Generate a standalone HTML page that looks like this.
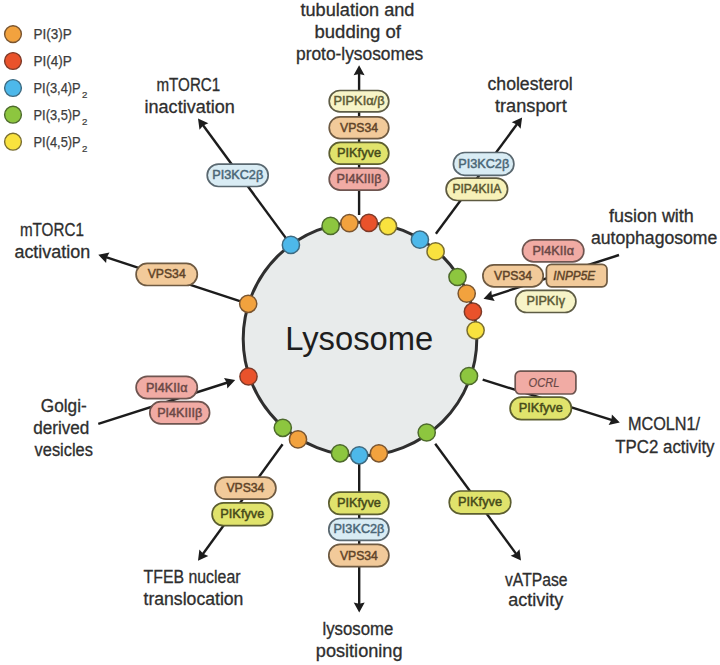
<!DOCTYPE html>
<html><head><meta charset="utf-8"><style>
html,body{margin:0;padding:0;background:#fff;}
svg{display:block;font-family:"Liberation Sans",sans-serif;}
</style></head><body>
<svg width="720" height="665" viewBox="0 0 720 665">
<rect width="720" height="665" fill="#fff"/>
<circle cx="360" cy="339" r="116.8" fill="#e8ebeb" stroke="#2f2f2f" stroke-width="3"/>
<line x1="359.1" y1="215.0" x2="359.1" y2="73.2" stroke="#1c1c1c" stroke-width="2.4"/>
<polygon points="359.1,65.2 364.6,75.2 359.1,74.0 353.6,75.2" fill="#1c1c1c"/>
<line x1="290.9" y1="244.9" x2="202.7" y2="124.8" stroke="#1c1c1c" stroke-width="2.4"/>
<polygon points="198.0,118.4 208.4,123.2 203.2,125.5 199.5,129.7" fill="#1c1c1c"/>
<line x1="435.9" y1="233.8" x2="517.3" y2="123.8" stroke="#1c1c1c" stroke-width="2.4"/>
<polygon points="522.1,117.4 520.6,128.7 516.9,124.5 511.7,122.2" fill="#1c1c1c"/>
<line x1="619.0" y1="255.0" x2="491.1" y2="296.3" stroke="#1c1c1c" stroke-width="2.4"/>
<polygon points="483.5,298.8 491.3,290.4 491.9,296.0 494.7,300.9" fill="#1c1c1c"/>
<line x1="248.2" y1="303.8" x2="105.9" y2="257.2" stroke="#1c1c1c" stroke-width="2.4"/>
<polygon points="98.3,254.7 109.5,252.6 106.7,257.4 106.1,263.0" fill="#1c1c1c"/>
<line x1="98.3" y1="423.8" x2="227.6" y2="382.5" stroke="#1c1c1c" stroke-width="2.4"/>
<polygon points="235.2,380.1 227.3,388.4 226.8,382.8 224.0,377.9" fill="#1c1c1c"/>
<line x1="482.7" y1="379.6" x2="612.2" y2="420.2" stroke="#1c1c1c" stroke-width="2.4"/>
<polygon points="619.8,422.6 608.6,424.9 611.4,420.0 611.9,414.4" fill="#1c1c1c"/>
<line x1="435.2" y1="443.7" x2="516.3" y2="554.1" stroke="#1c1c1c" stroke-width="2.4"/>
<polygon points="521.0,560.5 510.6,555.7 515.8,553.4 519.5,549.2" fill="#1c1c1c"/>
<line x1="282.6" y1="444.3" x2="202.7" y2="554.3" stroke="#1c1c1c" stroke-width="2.4"/>
<polygon points="198.0,560.8 199.4,549.5 203.2,553.7 208.3,555.9" fill="#1c1c1c"/>
<line x1="359.2" y1="462.0" x2="359.2" y2="604.5" stroke="#1c1c1c" stroke-width="2.4"/>
<polygon points="359.2,612.5 353.7,602.5 359.2,603.7 364.7,602.5" fill="#1c1c1c"/>
<circle cx="330.6" cy="225.9" r="8.6" fill="#8dc63f" stroke="#4d6a2c" stroke-width="1.5"/>
<circle cx="349.4" cy="223.1" r="8.6" fill="#f2a23e" stroke="#7a5530" stroke-width="1.5"/>
<circle cx="368.9" cy="222.9" r="8.6" fill="#e9522b" stroke="#7e3a28" stroke-width="1.5"/>
<circle cx="388" cy="226.2" r="8.6" fill="#f9e23e" stroke="#7a6e30" stroke-width="1.5"/>
<circle cx="419.9" cy="239.7" r="8.6" fill="#4db8ea" stroke="#3e6a80" stroke-width="1.5"/>
<circle cx="435.6" cy="251.4" r="8.6" fill="#f9e23e" stroke="#7a6e30" stroke-width="1.5"/>
<circle cx="457.5" cy="277" r="8.6" fill="#8dc63f" stroke="#4d6a2c" stroke-width="1.5"/>
<circle cx="466.7" cy="293.6" r="8.6" fill="#f2a23e" stroke="#7a5530" stroke-width="1.5"/>
<circle cx="472.9" cy="311.7" r="8.6" fill="#e9522b" stroke="#7e3a28" stroke-width="1.5"/>
<circle cx="475.6" cy="330.3" r="8.6" fill="#f9e23e" stroke="#7a6e30" stroke-width="1.5"/>
<circle cx="469" cy="376" r="8.6" fill="#8dc63f" stroke="#4d6a2c" stroke-width="1.5"/>
<circle cx="426.7" cy="432.5" r="8.6" fill="#8dc63f" stroke="#4d6a2c" stroke-width="1.5"/>
<circle cx="378.9" cy="453.3" r="8.6" fill="#f2a23e" stroke="#7a5530" stroke-width="1.5"/>
<circle cx="340" cy="453.3" r="8.6" fill="#8dc63f" stroke="#4d6a2c" stroke-width="1.5"/>
<circle cx="359.2" cy="455.3" r="8.6" fill="#4db8ea" stroke="#3e6a80" stroke-width="1.5"/>
<circle cx="298" cy="439.4" r="8.6" fill="#f2a23e" stroke="#7a5530" stroke-width="1.5"/>
<circle cx="282.8" cy="427.8" r="8.6" fill="#8dc63f" stroke="#4d6a2c" stroke-width="1.5"/>
<circle cx="248.5" cy="376.5" r="8.6" fill="#e9522b" stroke="#7e3a28" stroke-width="1.5"/>
<circle cx="248.2" cy="303.8" r="8.6" fill="#f2a23e" stroke="#7a5530" stroke-width="1.5"/>
<circle cx="290.9" cy="244.9" r="8.6" fill="#4db8ea" stroke="#3e6a80" stroke-width="1.5"/>
<rect x="329.2" y="90.5" width="59.6" height="21.4" rx="10.7" fill="#f7f4c8" stroke="#5e5c45" stroke-width="1.7"/>
<text x="359.0" y="105.2" font-size="13.6" fill="#5c5a36" text-anchor="middle" stroke="#5c5a36" stroke-width="0.5" textLength="51" lengthAdjust="spacingAndGlyphs">PIPKIα/β</text>
<rect x="329.2" y="116.8" width="59.6" height="21.8" rx="10.9" fill="#f2ca9a" stroke="#6e5a42" stroke-width="1.7"/>
<text x="359.0" y="131.7" font-size="13.6" fill="#604428" text-anchor="middle" stroke="#604428" stroke-width="0.5" textLength="38" lengthAdjust="spacingAndGlyphs">VPS34</text>
<rect x="329.2" y="142.4" width="59.6" height="21.8" rx="10.9" fill="#e0e36c" stroke="#5c5e30" stroke-width="1.7"/>
<text x="359.0" y="157.3" font-size="13.6" fill="#464a1a" text-anchor="middle" stroke="#464a1a" stroke-width="0.5" textLength="44" lengthAdjust="spacingAndGlyphs">PIKfyve</text>
<rect x="329.2" y="168.2" width="59.6" height="21.9" rx="10.9" fill="#f1aba4" stroke="#6e5550" stroke-width="1.7"/>
<text x="359.0" y="183.2" font-size="13.6" fill="#6a4846" text-anchor="middle" stroke="#6a4846" stroke-width="0.5" textLength="45" lengthAdjust="spacingAndGlyphs">PI4KIIIβ</text>
<rect x="207.2" y="164.1" width="61.0" height="22.4" rx="11.2" fill="#d9ecf4" stroke="#5a6870" stroke-width="1.7"/>
<text x="237.7" y="179.3" font-size="13.6" fill="#4a6676" text-anchor="middle" stroke="#4a6676" stroke-width="0.5" textLength="51" lengthAdjust="spacingAndGlyphs">PI3KC2β</text>
<rect x="453.4" y="152.5" width="60.5" height="22.8" rx="11.4" fill="#d9ecf4" stroke="#5a6870" stroke-width="1.7"/>
<text x="483.7" y="167.9" font-size="13.6" fill="#4a6676" text-anchor="middle" stroke="#4a6676" stroke-width="0.5" textLength="51" lengthAdjust="spacingAndGlyphs">PI3KC2β</text>
<rect x="446.1" y="178.2" width="61.5" height="22.3" rx="11.2" fill="#f7f1b8" stroke="#5e5a40" stroke-width="1.7"/>
<text x="476.9" y="193.4" font-size="13.6" fill="#5a5630" text-anchor="middle" stroke="#5a5630" stroke-width="0.5" textLength="49" lengthAdjust="spacingAndGlyphs">PIP4KIIA</text>
<rect x="522.5" y="239.8" width="61.3" height="22.1" rx="11.0" fill="#f1aba4" stroke="#6e5550" stroke-width="1.7"/>
<text x="553.2" y="254.8" font-size="13.6" fill="#6a4846" text-anchor="middle" stroke="#6a4846" stroke-width="0.5" textLength="41.5" lengthAdjust="spacingAndGlyphs">PI4KIIα</text>
<rect x="482.9" y="264.8" width="60.3" height="22.1" rx="11.0" fill="#f2ca9a" stroke="#6e5a42" stroke-width="1.7"/>
<text x="513.0" y="279.9" font-size="13.6" fill="#604428" text-anchor="middle" stroke="#604428" stroke-width="0.5" textLength="38" lengthAdjust="spacingAndGlyphs">VPS34</text>
<rect x="546.4" y="264.3" width="60.6" height="22.5" rx="5.0" fill="#f2ca9a" stroke="#6e5a42" stroke-width="1.7"/>
<text x="574.2" y="279.5" font-size="13.6" fill="#604428" text-anchor="middle" stroke="#604428" stroke-width="0.5" font-style="italic" textLength="42" lengthAdjust="spacingAndGlyphs">INPP5E</text>
<rect x="515.6" y="290.4" width="60.3" height="22.1" rx="11.0" fill="#f7f4c8" stroke="#5e5c45" stroke-width="1.7"/>
<text x="545.8" y="305.4" font-size="13.6" fill="#5c5a36" text-anchor="middle" stroke="#5c5a36" stroke-width="0.5" textLength="38.5" lengthAdjust="spacingAndGlyphs">PIPKIγ</text>
<rect x="136.1" y="263.4" width="61.2" height="22.1" rx="11.0" fill="#f2ca9a" stroke="#6e5a42" stroke-width="1.7"/>
<text x="166.7" y="278.4" font-size="13.6" fill="#604428" text-anchor="middle" stroke="#604428" stroke-width="0.5" textLength="38" lengthAdjust="spacingAndGlyphs">VPS34</text>
<rect x="136.1" y="376.4" width="61.2" height="22.2" rx="11.1" fill="#f1aba4" stroke="#6e5550" stroke-width="1.7"/>
<text x="166.7" y="391.5" font-size="13.6" fill="#6a4846" text-anchor="middle" stroke="#6a4846" stroke-width="0.5" textLength="41.5" lengthAdjust="spacingAndGlyphs">PI4KIIα</text>
<rect x="149.8" y="401.7" width="59.8" height="22.1" rx="11.0" fill="#f1aba4" stroke="#6e5550" stroke-width="1.7"/>
<text x="179.7" y="416.8" font-size="13.6" fill="#6a4846" text-anchor="middle" stroke="#6a4846" stroke-width="0.5" textLength="45" lengthAdjust="spacingAndGlyphs">PI4KIIIβ</text>
<rect x="515.2" y="371.1" width="60.7" height="22.9" rx="5.0" fill="#f1aba4" stroke="#6e5550" stroke-width="1.7"/>
<text x="544.0" y="386.5" font-size="13.6" fill="#6a4846" text-anchor="middle" stroke="#6a4846" stroke-width="0.2" font-style="italic" textLength="31" lengthAdjust="spacingAndGlyphs">OCRL</text>
<rect x="510.1" y="397.1" width="61.3" height="22.5" rx="11.2" fill="#e0e36c" stroke="#5c5e30" stroke-width="1.7"/>
<text x="540.8" y="412.4" font-size="13.6" fill="#464a1a" text-anchor="middle" stroke="#464a1a" stroke-width="0.5" textLength="44" lengthAdjust="spacingAndGlyphs">PIKfyve</text>
<rect x="215.0" y="477.1" width="60.9" height="22.1" rx="11.0" fill="#f2ca9a" stroke="#6e5a42" stroke-width="1.7"/>
<text x="245.4" y="492.1" font-size="13.6" fill="#604428" text-anchor="middle" stroke="#604428" stroke-width="0.5" textLength="38" lengthAdjust="spacingAndGlyphs">VPS34</text>
<rect x="212.1" y="502.9" width="60.5" height="22.7" rx="11.3" fill="#e0e36c" stroke="#5c5e30" stroke-width="1.7"/>
<text x="242.3" y="518.2" font-size="13.6" fill="#464a1a" text-anchor="middle" stroke="#464a1a" stroke-width="0.5" textLength="44" lengthAdjust="spacingAndGlyphs">PIKfyve</text>
<rect x="328.8" y="492.2" width="60.1" height="22.2" rx="11.1" fill="#e0e36c" stroke="#5c5e30" stroke-width="1.7"/>
<text x="358.9" y="507.3" font-size="13.6" fill="#464a1a" text-anchor="middle" stroke="#464a1a" stroke-width="0.5" textLength="44" lengthAdjust="spacingAndGlyphs">PIKfyve</text>
<rect x="328.8" y="518.5" width="60.1" height="21.8" rx="10.9" fill="#d9ecf4" stroke="#5a6870" stroke-width="1.7"/>
<text x="358.9" y="533.4" font-size="13.6" fill="#4a6676" text-anchor="middle" stroke="#4a6676" stroke-width="0.5" textLength="51" lengthAdjust="spacingAndGlyphs">PI3KC2β</text>
<rect x="328.8" y="544.4" width="60.1" height="22.2" rx="11.1" fill="#f2ca9a" stroke="#6e5a42" stroke-width="1.7"/>
<text x="358.9" y="559.5" font-size="13.6" fill="#604428" text-anchor="middle" stroke="#604428" stroke-width="0.5" textLength="38" lengthAdjust="spacingAndGlyphs">VPS34</text>
<rect x="449.2" y="491.0" width="61.6" height="22.8" rx="11.4" fill="#e0e36c" stroke="#5c5e30" stroke-width="1.7"/>
<text x="480.0" y="506.4" font-size="13.6" fill="#464a1a" text-anchor="middle" stroke="#464a1a" stroke-width="0.5" textLength="44" lengthAdjust="spacingAndGlyphs">PIKfyve</text>
<text x="300.5" y="16.1" font-size="17.5" fill="#2e2e2e" stroke="#2e2e2e" stroke-width="0.3" textLength="113.9" lengthAdjust="spacingAndGlyphs">tubulation and</text>
<text x="314.5" y="37.9" font-size="17.5" fill="#2e2e2e" stroke="#2e2e2e" stroke-width="0.3" textLength="86.5" lengthAdjust="spacingAndGlyphs">budding of</text>
<text x="296" y="60.0" font-size="17.5" fill="#2e2e2e" stroke="#2e2e2e" stroke-width="0.3" textLength="127.3" lengthAdjust="spacingAndGlyphs">proto-lysosomes</text>
<text x="156.5" y="90.7" font-size="17.5" fill="#2e2e2e" stroke="#2e2e2e" stroke-width="0.3" textLength="63.7" lengthAdjust="spacingAndGlyphs">mTORC1</text>
<text x="144.6" y="113.0" font-size="17.5" fill="#2e2e2e" stroke="#2e2e2e" stroke-width="0.3" textLength="90.1" lengthAdjust="spacingAndGlyphs">inactivation</text>
<text x="487.5" y="90.4" font-size="17.5" fill="#2e2e2e" stroke="#2e2e2e" stroke-width="0.3" textLength="85.3" lengthAdjust="spacingAndGlyphs">cholesterol</text>
<text x="495" y="111.9" font-size="17.5" fill="#2e2e2e" stroke="#2e2e2e" stroke-width="0.3" textLength="71.7" lengthAdjust="spacingAndGlyphs">transport</text>
<text x="609" y="221.7" font-size="17.5" fill="#2e2e2e" stroke="#2e2e2e" stroke-width="0.3" textLength="84.8" lengthAdjust="spacingAndGlyphs">fusion with</text>
<text x="591" y="243.7" font-size="17.5" fill="#2e2e2e" stroke="#2e2e2e" stroke-width="0.3" textLength="126.3" lengthAdjust="spacingAndGlyphs">autophagosome</text>
<text x="19.9" y="236.0" font-size="17.5" fill="#2e2e2e" stroke="#2e2e2e" stroke-width="0.3" textLength="64.0" lengthAdjust="spacingAndGlyphs">mTORC1</text>
<text x="14.4" y="258.0" font-size="17.5" fill="#2e2e2e" stroke="#2e2e2e" stroke-width="0.3" textLength="75.9" lengthAdjust="spacingAndGlyphs">activation</text>
<text x="40.8" y="412.2" font-size="17.5" fill="#2e2e2e" stroke="#2e2e2e" stroke-width="0.3" textLength="45.9" lengthAdjust="spacingAndGlyphs">Golgi-</text>
<text x="33.2" y="433.8" font-size="17.5" fill="#2e2e2e" stroke="#2e2e2e" stroke-width="0.3" textLength="56.2" lengthAdjust="spacingAndGlyphs">derived</text>
<text x="34.6" y="456.0" font-size="17.5" fill="#2e2e2e" stroke="#2e2e2e" stroke-width="0.3" textLength="58.3" lengthAdjust="spacingAndGlyphs">vesicles</text>
<text x="627.9" y="430.3" font-size="17.5" fill="#2e2e2e" stroke="#2e2e2e" stroke-width="0.3" textLength="72.2" lengthAdjust="spacingAndGlyphs">MCOLN1/</text>
<text x="615.3" y="452.8" font-size="17.5" fill="#2e2e2e" stroke="#2e2e2e" stroke-width="0.3" textLength="99.2" lengthAdjust="spacingAndGlyphs">TPC2 activity</text>
<text x="505" y="585.6" font-size="17.5" fill="#2e2e2e" stroke="#2e2e2e" stroke-width="0.3" textLength="62.5" lengthAdjust="spacingAndGlyphs">vATPase</text>
<text x="508.3" y="606.4" font-size="17.5" fill="#2e2e2e" stroke="#2e2e2e" stroke-width="0.3" textLength="55.0" lengthAdjust="spacingAndGlyphs">activity</text>
<text x="143.5" y="583.4" font-size="17.5" fill="#2e2e2e" stroke="#2e2e2e" stroke-width="0.3" textLength="97.0" lengthAdjust="spacingAndGlyphs">TFEB nuclear</text>
<text x="143.5" y="605.1" font-size="17.5" fill="#2e2e2e" stroke="#2e2e2e" stroke-width="0.3" textLength="99.9" lengthAdjust="spacingAndGlyphs">translocation</text>
<text x="322.5" y="635.1" font-size="17.5" fill="#2e2e2e" stroke="#2e2e2e" stroke-width="0.3" textLength="70.8" lengthAdjust="spacingAndGlyphs">lysosome</text>
<text x="315.8" y="656.8" font-size="17.5" fill="#2e2e2e" stroke="#2e2e2e" stroke-width="0.3" textLength="86.7" lengthAdjust="spacingAndGlyphs">positioning</text>
<text x="285.2" y="350" font-size="34" fill="#1e1e1e" textLength="148" lengthAdjust="spacingAndGlyphs">Lysosome</text>
<circle cx="13" cy="34.1" r="8.4" fill="#f2a23e" stroke="#7a5530" stroke-width="1.4"/>
<text x="33.5" y="39.1" font-size="14" fill="#3c3c3c" stroke="#3c3c3c" stroke-width="0.25" textLength="38.2" lengthAdjust="spacingAndGlyphs">PI(3)P</text>
<circle cx="13" cy="61" r="8.4" fill="#e9522b" stroke="#7e3a28" stroke-width="1.4"/>
<text x="33.5" y="66.0" font-size="14" fill="#3c3c3c" stroke="#3c3c3c" stroke-width="0.25" textLength="38.2" lengthAdjust="spacingAndGlyphs">PI(4)P</text>
<circle cx="13" cy="88" r="8.4" fill="#4db8ea" stroke="#3e6a80" stroke-width="1.4"/>
<text x="33.5" y="93.0" font-size="14" fill="#3c3c3c" stroke="#3c3c3c" stroke-width="0.25" textLength="47.2" lengthAdjust="spacingAndGlyphs">PI(3,4)P</text>
<text x="82" y="98.0" font-size="8.5" fill="#3c3c3c" stroke="#3c3c3c" stroke-width="0.2" textLength="5.4" lengthAdjust="spacingAndGlyphs">2</text>
<circle cx="13" cy="114.7" r="8.4" fill="#8dc63f" stroke="#4d6a2c" stroke-width="1.4"/>
<text x="33.5" y="119.7" font-size="14" fill="#3c3c3c" stroke="#3c3c3c" stroke-width="0.25" textLength="47.2" lengthAdjust="spacingAndGlyphs">PI(3,5)P</text>
<text x="82" y="124.7" font-size="8.5" fill="#3c3c3c" stroke="#3c3c3c" stroke-width="0.2" textLength="5.4" lengthAdjust="spacingAndGlyphs">2</text>
<circle cx="13" cy="141.7" r="8.4" fill="#f9e23e" stroke="#7a6e30" stroke-width="1.4"/>
<text x="33.5" y="146.7" font-size="14" fill="#3c3c3c" stroke="#3c3c3c" stroke-width="0.25" textLength="47.2" lengthAdjust="spacingAndGlyphs">PI(4,5)P</text>
<text x="82" y="151.7" font-size="8.5" fill="#3c3c3c" stroke="#3c3c3c" stroke-width="0.2" textLength="5.4" lengthAdjust="spacingAndGlyphs">2</text>
</svg></body></html>
